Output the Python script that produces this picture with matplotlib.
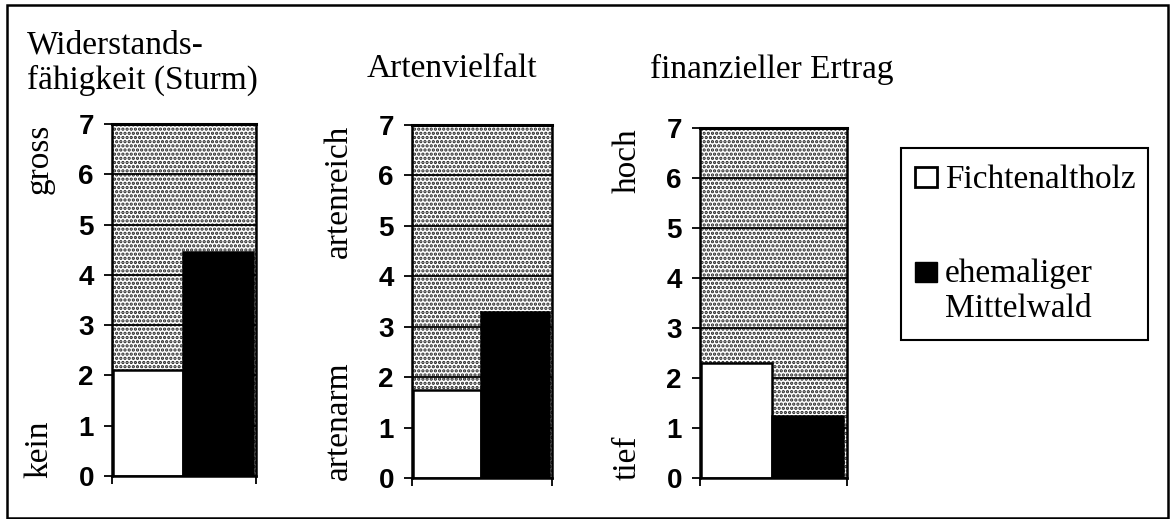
import matplotlib
matplotlib.use("Agg")
import matplotlib.pyplot as plt
from matplotlib.patches import Rectangle

# 数据
titles = ["Widerstands-\nfähigkeit (Sturm)", "Artenvielfalt", "finanzieller Ertrag"]
fichte = [2.1, 1.75, 2.3]
mittelwald = [4.45, 3.3, 1.25]
low_labels = ["kein", "artenarm", "tief"]
high_labels = ["gross", "artenreich", "hoch"]
series_names = ["Fichtenaltholz", "ehemaliger\nMittelwald"]
yticks = [0, 1, 2, 3, 4, 5, 6, 7]

W, H = 1170, 519
SERIF = "Liberation Serif"
SANS = "Liberation Sans"
FS = 24
plt.rcParams["hatch.linewidth"] = 1.6


def fx(x):
    return x / W


def fy(y):
    return 1 - y / H


fig = plt.figure(figsize=(W / 100, H / 100), dpi=100)

# axes (left, top, right, bottom) in pixels
boxes = [(112, 124, 256, 476), (412, 125, 552, 478), (700, 128, 847, 478)]

for i, (l, t, r, b) in enumerate(boxes):
    ax = fig.add_axes([fx(l), fy(b), (r - l) / W, (b - t) / H])
    # dotted background
    ax.add_patch(Rectangle((0, 0), 1, 1, transform=ax.transAxes, facecolor="white",
                           edgecolor="#222222", hatch="....", linewidth=0, zorder=0.1))
    ax.bar([0, 1], [fichte[i], mittelwald[i]], width=1.0, align="center",
           color=["white", "black"], edgecolor="black", linewidth=1.8, zorder=2)
    ax.set_xlim(-0.52, 1.55)
    ax.set_ylim(0, 7)
    ax.set_yticks(yticks)
    ax.set_yticklabels([str(v) for v in yticks], fontfamily=SANS, fontsize=20, fontweight="bold")
    ax.set_xticks(ax.get_xlim())
    ax.set_xticklabels([])
    ax.tick_params(axis="y", length=6, width=1.3, pad=7)
    ax.tick_params(axis="x", length=6, width=1.3)
    ax.grid(axis="y", color="black", linewidth=1.3)
    ax.set_axisbelow(True)
    for s in ax.spines.values():
        s.set_linewidth(1.8)
    ax.spines["top"].set_linewidth(2.2)
    ax.annotate(high_labels[i], xy=(0, 1), xycoords="axes fraction", xytext=(-73, 0),
                textcoords="offset pixels", rotation=90, ha="center", va="top",
                fontfamily=SERIF, fontsize=FS)
    ax.annotate(low_labels[i], xy=(0, 0), xycoords="axes fraction", xytext=(-73, -2),
                textcoords="offset pixels", rotation=90, ha="center", va="bottom",
                fontfamily=SERIF, fontsize=FS)

# titles
fig.text(fx(27), fy(53), "Widerstands-", fontfamily=SERIF, fontsize=FS, va="baseline")
fig.text(fx(27), fy(89), "fähigkeit (Sturm)", fontfamily=SERIF, fontsize=FS, va="baseline")
fig.text(fx(452), fy(77), titles[1], fontfamily=SERIF, fontsize=FS, ha="center", va="baseline")
fig.text(fx(772), fy(78), titles[2], fontfamily=SERIF, fontsize=FS, ha="center", va="baseline")

# legend box
fig.patches.append(Rectangle((fx(901), fy(340)), (1148 - 901) / W, (340 - 148) / H,
                             transform=fig.transFigure, facecolor="white",
                             edgecolor="black", linewidth=1.5))
fig.patches.append(Rectangle((fx(915), fy(187)), 22 / W, 20 / H, transform=fig.transFigure,
                             facecolor="white", edgecolor="black", linewidth=2))
fig.patches.append(Rectangle((fx(915), fy(282)), 22 / W, 20 / H, transform=fig.transFigure,
                             facecolor="black", edgecolor="black", linewidth=1))
fig.text(fx(945), fy(188), series_names[0], fontfamily=SERIF, fontsize=FS, va="baseline")
name2 = series_names[1].split("\n")
fig.text(fx(945), fy(282), name2[0], fontfamily=SERIF, fontsize=FS, va="baseline")
fig.text(fx(945), fy(317), name2[1], fontfamily=SERIF, fontsize=FS, va="baseline")

# outer frame
fig.patches.append(Rectangle((fx(7), fy(518)), (1168 - 7) / W, (518 - 5) / H,
                             transform=fig.transFigure, fill=False,
                             edgecolor="black", linewidth=1.8))

fig.savefig("out.png", dpi=100)
